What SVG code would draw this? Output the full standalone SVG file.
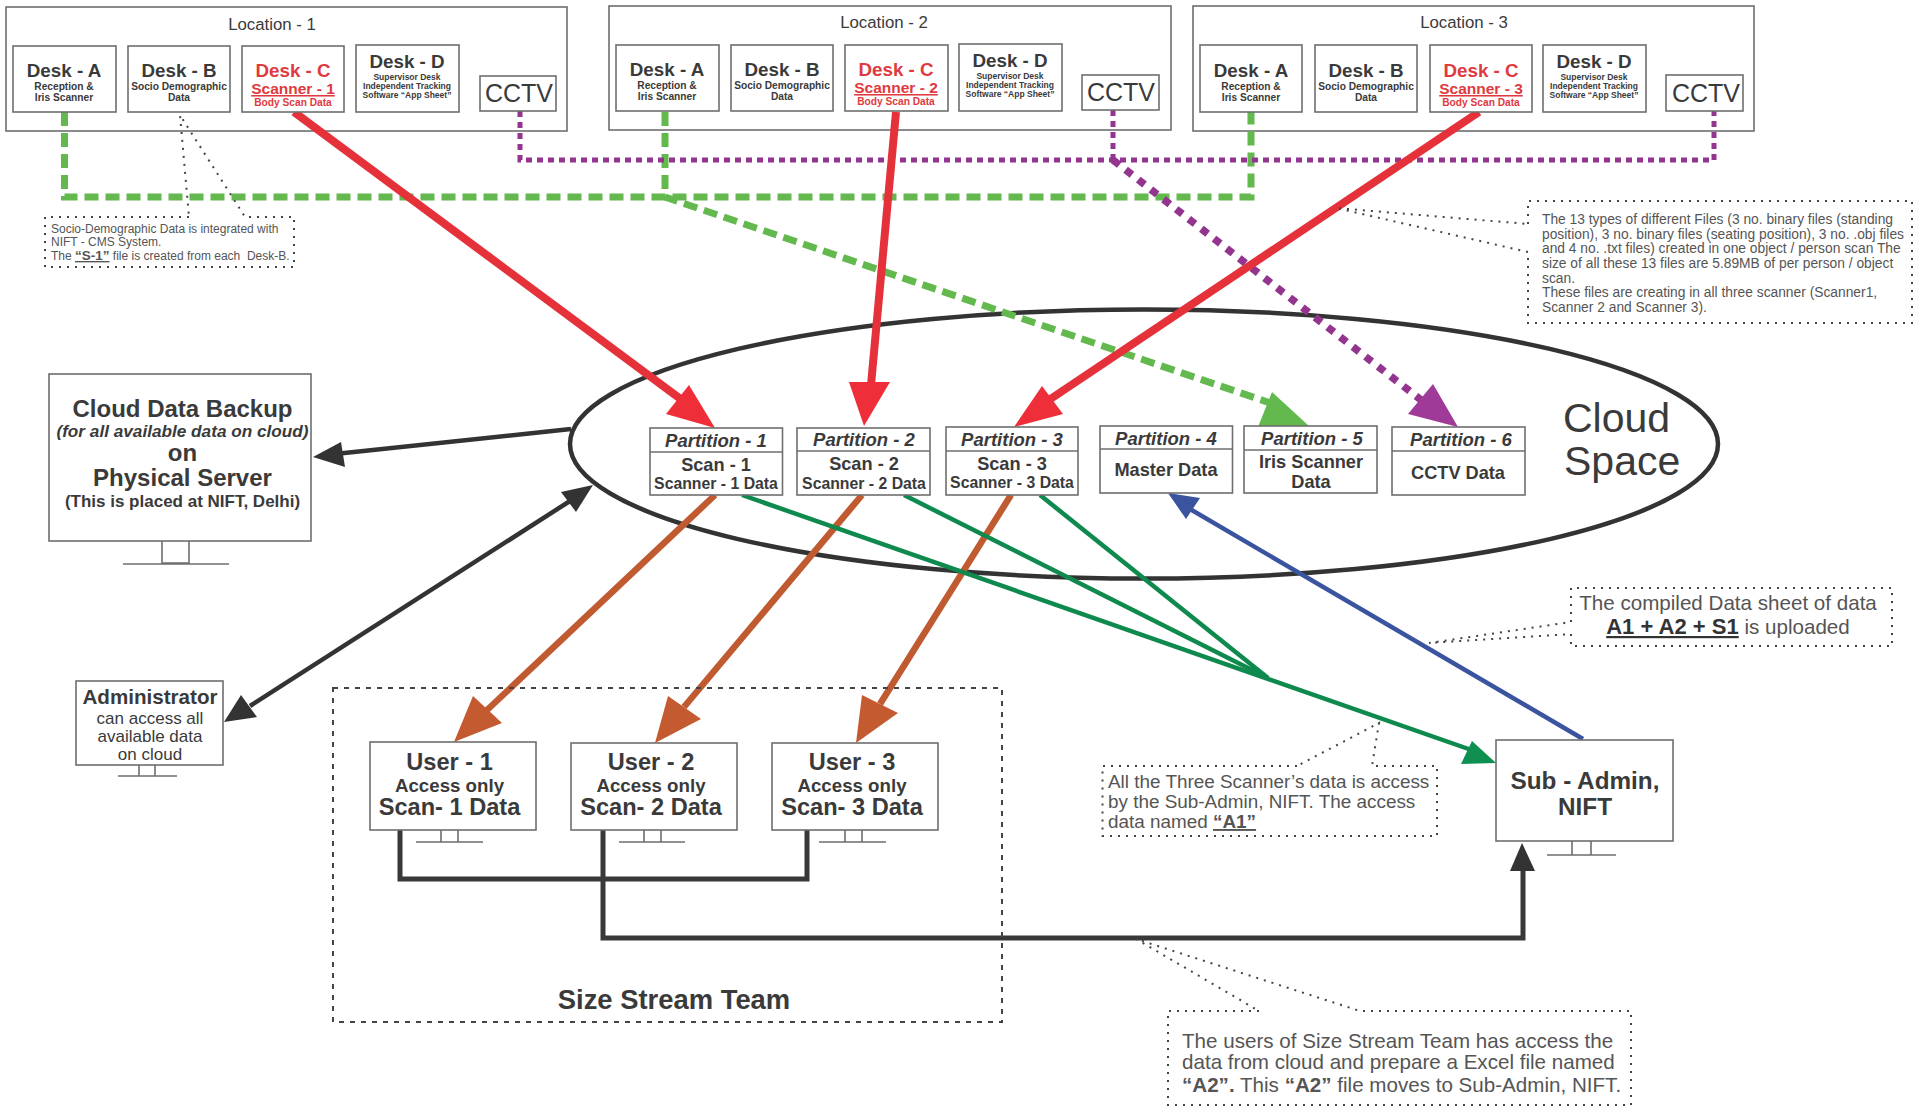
<svg xmlns="http://www.w3.org/2000/svg" width="1921" height="1112" viewBox="0 0 1921 1112">
<style>
text{font-family:"Liberation Sans",Arial,sans-serif;fill:#3a3a3a}
.m{text-anchor:middle}
.b{font-weight:700}
.i{font-style:italic}
.r{fill:#df3a40}
.box{fill:#fff;stroke:#6e6e6e;stroke-width:1.6}
.bg{fill:none;stroke:#6e6e6e;stroke-width:1.6}
.dot{fill:none;stroke:#444;stroke-width:2;stroke-dasharray:2 6}
.dash{fill:none;stroke:#444;stroke-width:2;stroke-dasharray:5 6}
.t1{font-size:18.8px;font-weight:700}
.t2{font-size:10.2px;font-weight:700}
.t3{font-size:8.5px;font-weight:700}
.loc{font-size:16.8px}
.cctv{font-size:25px}
.scn{font-size:15.5px;font-weight:700;fill:#df3a40;text-decoration:underline}
.pt{font-size:18.5px;font-weight:700;font-style:italic}
.ps{font-size:18.2px;font-weight:700}
.pd{font-size:15.8px;font-weight:700}
.ut{font-size:23.6px;font-weight:700}
.ua{font-size:18.7px;font-weight:700}
.n1{font-size:12px;fill:#555}
.n2{font-size:13.8px;fill:#555}
.n3{font-size:20.6px;fill:#555}
.n4{font-size:18.9px;fill:#555}
.n5{font-size:20.6px;fill:#555}
.green{fill:none;stroke:#63b84e;stroke-width:7;stroke-dasharray:14 7}
.purple{fill:none;stroke:#93358f;stroke-width:5;stroke-dasharray:6 5}
.purple2{fill:none;stroke:#93358f;stroke-width:7.5;stroke-dasharray:8 8}
.red{fill:none;stroke:#e5323a;stroke-width:8}
.brown{fill:none;stroke:#c05a30;stroke-width:6.5}
.dg{fill:none;stroke:#0f8a4e;stroke-width:4.5}
.blue{fill:none;stroke:#3b549f;stroke-width:4.5}
.dk{fill:none;stroke:#333;stroke-width:4.5}
.dk5{fill:none;stroke:#383838;stroke-width:5}
.fred{fill:#ee2e38}.fbr{fill:#c35a30}.fg{fill:#63b84e}.fp{fill:#a03a98}.fdg{fill:#0f8f50}.fb{fill:#3b549f}.fk{fill:#333}
</style>

<g id="cloud-space">
<ellipse cx="1144" cy="444" rx="574" ry="134.500" fill="#fff" stroke="#333" stroke-width="4.5"/>
<text x="1563" y="432" font-size="41">Cloud</text>
<text x="1564" y="475" font-size="41">Space</text>
</g>

<g id="location-1">
<rect class="bg" x="6" y="7" width="561" height="124"/>
<text class="m loc" x="272" y="30">Location - 1</text>
</g>
<g id="location-2">
<rect class="bg" x="609" y="6" width="562" height="124"/>
<text class="m loc" x="884" y="28">Location - 2</text>
</g>
<g id="location-3">
<rect class="bg" x="1193" y="6" width="561" height="125"/>
<text class="m loc" x="1464" y="28">Location - 3</text>
</g>

<g id="connectors">
<path class="green" d="M64.5 112V197H1251V112"/>
<path class="green" d="M665 112V197L1285 408"/>
<polygon class="fg" points="1272,392 1309,426 1258,427"/>
<path class="purple" d="M520 111V160H1714V111"/>
<path class="purple" d="M1113 110V160"/>
<path class="purple2" d="M1113 160L1425 403"/>
<polygon class="fp" points="1433,384 1458,427 1408,414"/>
<path class="red" d="M294 112L690 406"/>
<polygon class="fred" points="689,385 715,428 666,414"/>
<path class="red" d="M896 112L870 396"/>
<polygon class="fred" points="849,382 890,382 864,426"/>
<path class="red" d="M1479 112L1040 406"/>
<polygon class="fred" points="1042,386 1063,414 1014,427"/>
<path class="brown" d="M715 495L486 711"/>
<polygon class="fbr" points="473,696 502,723 454,742"/>
<path class="brown" d="M862 495L684 707"/>
<polygon class="fbr" points="668,696 701,719 655,743"/>
<path class="brown" d="M1011 495L880 704"/>
<polygon class="fbr" points="862,695 898,713 856,743"/>
<path class="dg" d="M742 495L1480 753"/>
<path class="dg" d="M904 495L1268 678"/>
<path class="dg" d="M1040 495L1268 678"/>
<polygon class="fdg" points="1472,741 1496,763 1461,764"/>
<path class="blue" d="M1583 739L1190 509"/>
<polygon class="fb" points="1200,498 1186,519 1168,493"/>
<path class="dk" d="M571 429L335 454"/>
<polygon class="fk" points="341,442 313,457 345,467"/>
<path class="dk" d="M250 706L570 501"/>
<polygon class="fk" points="241,695 257,717 224,722"/>
<polygon class="fk" points="561,492 576,512 593,485"/>
<path class="dk5" d="M400 830V879H807V830"/>
<path class="dk5" d="M603 830V938H1523V866"/>
<polygon class="fk" points="1510,871 1522,843 1535,871"/>
</g>

<g id="desk-a-1"><rect class="box" x="13" y="46" width="103" height="66"/><text class="m t1" x="64" y="77">Desk - A</text><text class="m t2" x="64" y="90">Reception &amp;</text><text class="m t2" x="64" y="101">Iris Scanner</text></g>
<g id="desk-b-1"><rect class="box" x="128" y="46" width="102" height="66"/><text class="m t1" x="179" y="77">Desk - B</text><text class="m t2" x="179" y="90">Socio Demographic</text><text class="m t2" x="179" y="101">Data</text></g>
<g id="desk-c-1"><rect class="box" x="242" y="46" width="102" height="66"/><text class="m t1 r" x="293" y="77">Desk - C</text><text class="m scn" x="293" y="94">Scanner - 1</text><text class="m t2 r" x="293" y="106">Body Scan Data</text></g>
<g id="desk-d-1"><rect class="box" x="356" y="45" width="103" height="67"/><text class="m t1" x="407" y="68">Desk - D</text><text class="m t3" x="407" y="80">Supervisor Desk</text><text class="m t3" x="407" y="89">Independent Tracking</text><text class="m t3" x="407" y="98">Software “App Sheet”</text></g>
<g id="cctv-1"><rect class="box" x="480" y="76" width="76" height="35"/><text class="m cctv" x="519" y="102">CCTV</text></g>

<g id="desk-a-2"><rect class="box" x="616" y="45" width="103" height="66"/><text class="m t1" x="667" y="76">Desk - A</text><text class="m t2" x="667" y="89">Reception &amp;</text><text class="m t2" x="667" y="100">Iris Scanner</text></g>
<g id="desk-b-2"><rect class="box" x="731" y="45" width="102" height="66"/><text class="m t1" x="782" y="76">Desk - B</text><text class="m t2" x="782" y="89">Socio Demographic</text><text class="m t2" x="782" y="100">Data</text></g>
<g id="desk-c-2"><rect class="box" x="845" y="45" width="103" height="66"/><text class="m t1 r" x="896" y="76">Desk - C</text><text class="m scn" x="896" y="93">Scanner - 2</text><text class="m t2 r" x="896" y="105">Body Scan Data</text></g>
<g id="desk-d-2"><rect class="box" x="959" y="44" width="103" height="67"/><text class="m t1" x="1010" y="67">Desk - D</text><text class="m t3" x="1010" y="79">Supervisor Desk</text><text class="m t3" x="1010" y="88">Independent Tracking</text><text class="m t3" x="1010" y="97">Software “App Sheet”</text></g>
<g id="cctv-2"><rect class="box" x="1082" y="75" width="77" height="35"/><text class="m cctv" x="1121" y="101">CCTV</text></g>

<g id="desk-a-3"><rect class="box" x="1200" y="45" width="102" height="67"/><text class="m t1" x="1251" y="77">Desk - A</text><text class="m t2" x="1251" y="90">Reception &amp;</text><text class="m t2" x="1251" y="101">Iris Scanner</text></g>
<g id="desk-b-3"><rect class="box" x="1315" y="45" width="102" height="67"/><text class="m t1" x="1366" y="77">Desk - B</text><text class="m t2" x="1366" y="90">Socio Demographic</text><text class="m t2" x="1366" y="101">Data</text></g>
<g id="desk-c-3"><rect class="box" x="1430" y="45" width="102" height="67"/><text class="m t1 r" x="1481" y="77">Desk - C</text><text class="m scn" x="1481" y="94">Scanner - 3</text><text class="m t2 r" x="1481" y="106">Body Scan Data</text></g>
<g id="desk-d-3"><rect class="box" x="1543" y="45" width="103" height="67"/><text class="m t1" x="1594" y="68">Desk - D</text><text class="m t3" x="1594" y="80">Supervisor Desk</text><text class="m t3" x="1594" y="89">Independent Tracking</text><text class="m t3" x="1594" y="98">Software “App Sheet”</text></g>
<g id="cctv-3"><rect class="box" x="1666" y="75" width="77" height="36"/><text class="m cctv" x="1706" y="102">CCTV</text></g>

<g id="partition-1" transform="translate(0,1)"><rect class="box" x="650" y="427" width="132.500" height="67"/><path class="bg" d="M650 451H782.500"/><text class="m pt" x="716" y="446">Partition - 1</text><text class="m ps" x="716" y="470">Scan - 1</text><text class="m pd" x="716" y="488">Scanner - 1 Data</text></g>
<g id="partition-2" transform="translate(0,1)"><rect class="box" x="797" y="427" width="133" height="67"/><path class="bg" d="M797 450H930"/><text class="m pt" x="864" y="445">Partition - 2</text><text class="m ps" x="864" y="469">Scan - 2</text><text class="m pd" x="864" y="488">Scanner - 2 Data</text></g>
<g id="partition-3" transform="translate(0,1)"><rect class="box" x="946" y="426" width="132" height="68"/><path class="bg" d="M946 450H1078"/><text class="m pt" x="1012" y="445">Partition - 3</text><text class="m ps" x="1012" y="469">Scan - 3</text><text class="m pd" x="1012" y="487">Scanner - 3 Data</text></g>
<g id="partition-4" transform="translate(0,1)"><rect class="box" x="1100" y="425" width="132.500" height="67"/><path class="bg" d="M1100 448H1232.500"/><text class="m pt" x="1166" y="444">Partition - 4</text><text class="m ps" x="1166" y="475">Master Data</text></g>
<g id="partition-5" transform="translate(0,1)"><rect class="box" x="1244" y="425" width="133" height="67"/><path class="bg" d="M1244 449H1377"/><text class="m pt" x="1312" y="444">Partition - 5</text><text class="m ps" x="1311" y="467">Iris Scanner</text><text class="m ps" x="1311" y="487">Data</text></g>
<g id="partition-6" transform="translate(0,1)"><rect class="box" x="1392" y="426" width="133" height="68"/><path class="bg" d="M1392 450H1525"/><text class="m pt" x="1461" y="445">Partition - 6</text><text class="m ps" x="1458" y="478">CCTV Data</text></g>

<g id="backup" transform="translate(0,1)">
<rect class="box" x="49" y="373" width="262" height="167"/>
<path class="bg" d="M162 540V562H189V540M123 563H229"/>
<text class="m" x="182.500" y="416" font-size="24" font-weight="700">Cloud Data Backup</text>
<text class="m b i" x="182.500" y="436" font-size="17.200">(for all available data on cloud)</text>
<text class="m" x="182.500" y="460" font-size="24" font-weight="700">on</text>
<text class="m" x="182.500" y="485" font-size="24" font-weight="700">Physical Server</text>
<text class="m b" x="182.500" y="506" font-size="17">(This is placed at NIFT, Delhi)</text>
</g>
<g id="administrator" transform="translate(0,1)">
<rect class="box" x="76" y="680" width="147" height="84"/>
<path class="bg" d="M139 764V775H155V764M118 775H177"/>
<text class="m b" x="150" y="703" font-size="20.600">Administrator</text>
<text class="m" x="150" y="723" font-size="17">can access all</text>
<text class="m" x="150" y="741" font-size="17">available data</text>
<text class="m" x="150" y="759" font-size="17">on cloud</text>
</g>

<g id="size-stream-team" transform="translate(0,1)">
<rect class="dash" x="333" y="687" width="669" height="334"/>
<text class="m b" x="674" y="1008" font-size="27.400">Size Stream Team</text>
</g>
<g id="user-1" transform="translate(0,1)"><rect class="box" x="370" y="741" width="166" height="88"/><path class="bg" d="M441 829V841H458V829M416 841H483"/><text class="m ut" x="449.500" y="769">User - 1</text><text class="m ua" x="449.500" y="791">Access only</text><text class="m ut" x="449.500" y="814">Scan- 1 Data</text></g>
<g id="user-2" transform="translate(0,1)"><rect class="box" x="571" y="742" width="166" height="87"/><path class="bg" d="M644 829V841H661V829M619 841H685"/><text class="m ut" x="651" y="769">User - 2</text><text class="m ua" x="651" y="791">Access only</text><text class="m ut" x="651" y="814">Scan- 2 Data</text></g>
<g id="user-3" transform="translate(0,1)"><rect class="box" x="772" y="742" width="166" height="87"/><path class="bg" d="M845 829V841H862V829M819 841H886"/><text class="m ut" x="852" y="769">User - 3</text><text class="m ua" x="852" y="791">Access only</text><text class="m ut" x="852" y="814">Scan- 3 Data</text></g>
<g id="sub-admin" transform="translate(0,1)"><rect class="box" x="1496" y="739" width="177" height="101"/><path class="bg" d="M1572 840V854H1591V840M1547 854H1616"/><text class="m b" x="1585" y="788" font-size="24.300">Sub - Admin,</text><text class="m b" x="1585" y="814" font-size="24.300">NIFT</text></g>

<g id="note-s1">
<path class="dot" d="M189 217H45V267H294V217H245L180 115L189 217"/>
<text class="n1" x="51" y="233">Socio-Demographic Data is integrated with</text>
<text class="n1" x="51" y="246">NIFT - CMS System.</text>
<text class="n1" x="51" y="260">The <tspan font-weight="700" font-size="13.500" text-decoration="underline">“S-1”</tspan> file is created from each&#160; Desk-B.</text>
</g>
<g id="note-files">
<path class="dot" d="M1528 224V201H1912V323H1528V252L1336 208L1528 224"/>
<text class="n2" x="1542" y="224">The 13 types of different Files (3 no. binary files (standing</text>
<text class="n2" x="1542" y="239">position), 3 no. binary files (seating position), 3 no. .obj files</text>
<text class="n2" x="1542" y="253">and 4 no. .txt files) created in one object / person scan The</text>
<text class="n2" x="1542" y="268">size of all these 13 files are 5.89MB of per person / object</text>
<text class="n2" x="1542" y="283">scan.</text>
<text class="n2" x="1542" y="297">These files are creating in all three scanner (Scanner1,</text>
<text class="n2" x="1542" y="312">Scanner 2 and Scanner 3).</text>
</g>
<g id="note-compiled" transform="translate(0,1)">
<path class="dot" d="M1571 621V587H1892V645H1571V633L1429 642L1571 621"/>
<text class="m n3" x="1728" y="609">The compiled Data sheet of data</text>
<text class="m n3" x="1728" y="633"><tspan font-weight="700" font-size="22" style="fill:#333" text-decoration="underline">A1 + A2 + S1</tspan> is uploaded</text>
</g>
<g id="note-a1" transform="translate(0,1)">
<path class="dot" d="M1297 765H1102.500V835H1437V765H1372L1379 722L1297 765"/>
<text class="n4" x="1108" y="787">All the Three Scanner’s data is access</text>
<text class="n4" x="1108" y="807">by the Sub-Admin, NIFT. The access</text>
<text class="n4" x="1108" y="827">data named <tspan font-weight="700" text-decoration="underline">“A1”</tspan></text>
</g>
<g id="note-a2" transform="translate(0,1)">
<path class="dot" d="M1259 1010H1168V1104H1631V1010H1360L1136 938L1259 1010"/>
<text class="n5" x="1182" y="1047">The users of Size Stream Team has access the</text>
<text class="n5" x="1182" y="1068">data from cloud and prepare a Excel file named</text>
<text class="n5" x="1182" y="1091"><tspan font-weight="700">“A2”.</tspan> This <tspan font-weight="700">“A2”</tspan> file moves to Sub-Admin, NIFT.</text>
</g>
</svg>
